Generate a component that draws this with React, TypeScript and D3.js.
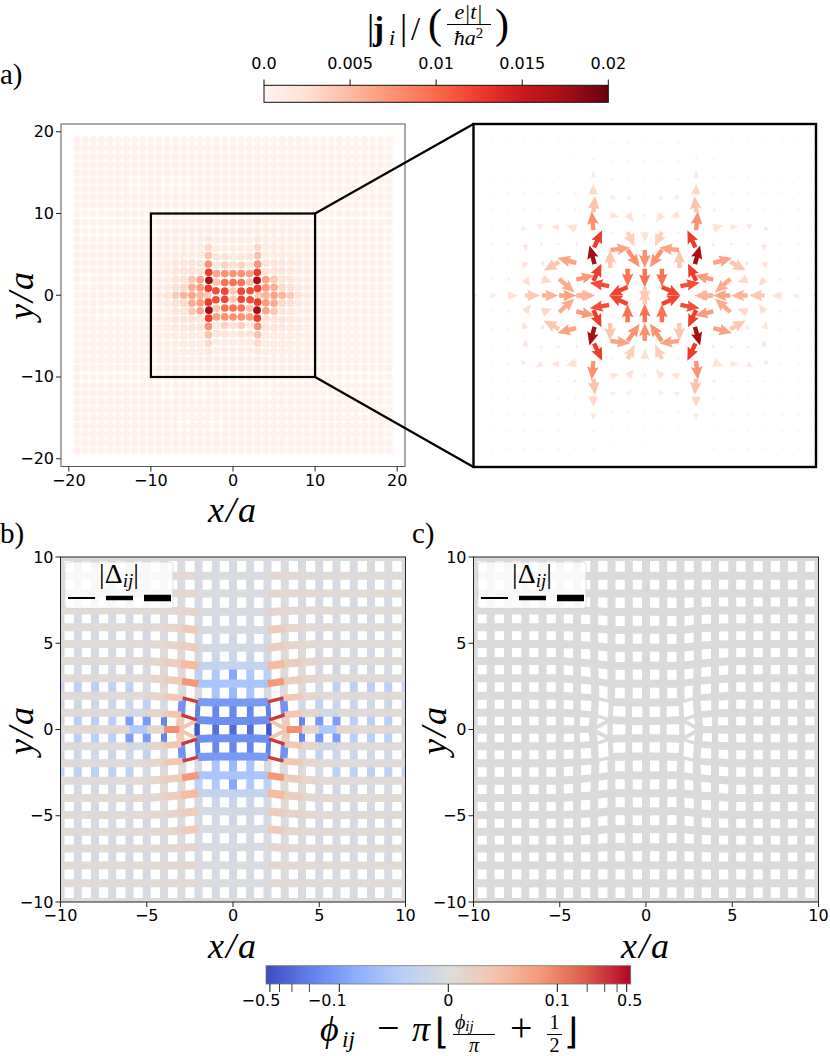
import * as d3 from 'd3';

// site rows, upper half, index j = 0..10 (j = 0 only exists outside the dislocation pair)
const rowsCol0 = [NaN, 0.5, 1.56, 2.66, 3.71, 4.75, 5.78, 6.82, 7.88, 8.92, 10];
const rowsCol1 = [NaN, 0.5, 1.56, 2.65, 3.7, 4.74, 5.78, 6.82, 7.88, 8.92, 10];
const rowsCol2 = [NaN, 0.55, 1.6, 2.65, 3.68, 4.72, 5.76, 6.8, 7.87, 8.92, 10];
const rowsCol3 = [0, 0.85, 1.83, 2.8, 3.81, 4.85, 5.87, 6.87, 7.88, 8.92, 10];
const rowsCol4 = [0, 0.93, 1.9, 2.9, 3.9, 4.92, 5.92, 6.9, 7.9, 8.92, 10];
const rowsOuter = [0, 0.97, 1.96, 2.97, 3.97, 4.95, 5.93, 6.9, 7.88, 8.92, 10];
const rowsByCol = [rowsCol0, rowsCol1, rowsCol2, rowsCol3, rowsCol4];
const col2X = [2, 2.08, 2.02, 2, 2, 2, 2, 2, 2, 2, 2];
const col3X = [3.12, 3.0, 2.93, 2.96, 3, 3, 3, 3, 3, 3, 3];

// |j_i| in units of 1e-3, rows j, columns i = |x|
const currentRows = [
  [0, 0, 0, 4, 5.5, 6.5, 5.5, 4, 2.2, 1.3, 0.9],
  [4, 12, 11.5, 12.5, 7, 6, 3, 2.5, 1.3, 0.9, 0.8],
  [9.5, 9.5, 4.2, 17.5, 6.5, 4.2, 2.2, 2, 1.1, 0.9, 0.8],
  [7.5, 7.5, 6.5, 12.5, 2.2, 2.2, 2, 1.8, 1, 0.9, 0.8],
  [2.4, 3.5, 1.4, 7.5, 2, 2.2, 1.5, 1.5, 0.9, 0.8, 0.8],
  [1.2, 2, 2, 4.5, 1.2, 1, 0.9, 0.9, 0.8, 0.8, 0.7],
  [0.9, 1.1, 1.1, 3, 1, 0.9, 0.9, 0.8, 0.8, 0.7, 0.7],
  [0.8, 0.9, 0.8, 1.6, 0.9, 0.8, 0.8, 0.8, 0.7, 0.7, 0.7],
  [0.8, 0.8, 0.8, 0.9, 0.8, 0.8, 0.7, 0.7, 0.7, 0.7, 0.6],
  [0.7, 0.7, 0.7, 0.8, 0.7, 0.7, 0.7, 0.7, 0.6, 0.6, 0.6],
  [0.6, 0.6, 0.6, 0.6, 0.6, 0.6, 0.6, 0.6, 0.6, 0.6, 0.6],
];
const currentFar = 0.45;

// arrow components for the x <= 0, y >= 0 quadrant, in lattice units
const arrowU = [
  [0, 0, 0, -1, 1.1, 1, 0.95, 0.9, 0.6, 0.4, 0.25],
  [0, -1.08, -1.13, 0.47, 1.07, 0.9, 0.6, 0.35, 0.2, 0.1, 0.1],
  [0, 0, 0, -0.3, -1.1, -0.9, 0.1, -0.1, 0.1, 0.1, 0.05],
  [0, 0.7, 1.15, 0.47, 0.05, -0.15, -0.1, 0.1, 0.1, 0.05, 0.05],
  [0, 0.4, 0.1, -0.1, -0.6, -0.45, -0.35, -0.25, 0.1, 0.05, 0.05],
  [0, 0.35, 0.5, 0.1, -0.15, -0.1, -0.15, -0.1, 0.1, 0.05, 0.05],
  [0, 0.2, 0.35, 0, -0.1, -0.1, -0.1, -0.1, 0.05, 0.05, 0.05],
  [0, 0.1, 0.2, 0, -0.1, -0.1, -0.1, -0.05, -0.05, 0.05, 0.05],
  [0, 0.05, 0.05, 0, -0.05, -0.05, -0.05, -0.05, -0.05, 0.05, 0.05],
  [0, 0.05, 0.05, 0, -0.05, -0.05, -0.05, -0.05, -0.05, 0.05, 0.05],
  [0, 0.05, 0.05, 0, -0.05, -0.05, -0.05, -0.05, -0.05, 0.05, 0.05],
];
const arrowV = [
  [0, 0, 0, 0, 0, 0, 0, 0, 0, 0, 0],
  [-0.95, -0.5, 0.2, 1, 0.25, -0.8, -0.2, -0.45, -0.1, -0.05, -0.05],
  [-1.1, -1.05, 1.05, 1.08, 0.28, -0.5, -0.25, -0.45, 0.1, 0.05, 0.05],
  [-1.05, -1, 0.13, 1, 0.2, 0.1, 0.1, -0.4, 0.1, 0.05, 0.05],
  [-0.6, -0.85, 0, 1.1, 0.2, 0.05, 0.25, -0.2, 0.1, 0.1, 0.05],
  [-0.25, -0.45, -0.15, 0.95, 0.2, 0.15, 0.1, 0.15, 0.1, 0.1, 0.05],
  [-0.1, -0.3, -0.1, 0.65, 0.15, 0.15, 0.1, 0.1, 0.1, 0.1, 0.05],
  [-0.1, -0.1, -0.05, 0.4, 0.1, 0.1, 0.1, 0.1, 0.1, 0.05, 0.05],
  [-0.05, -0.05, -0.05, 0.2, 0.05, 0.05, 0.05, 0.05, 0.05, 0.05, 0.05],
  [-0.05, -0.05, -0.05, 0.1, 0.05, 0.05, 0.05, 0.05, 0.05, 0.05, 0.05],
  [-0.05, -0.05, -0.05, 0.05, 0.05, 0.05, 0.05, 0.05, 0.05, 0.05, 0.05],
];

// phase on vertical bonds: column i, from row j to row j+1
const phaseV = [
  [-0.3, -0.28, -0.45, 0.03, -0.17, -0.11, -0.1, -0.04, -0.04, -0.04, -0.02],
  [-0.17, -0.17, -0.2, -0.13, -0.01, -0.03, -0.02, -0.02, -0.015, -0.015, -0.015],
  [-0.07, -0.055, -0.005, 0, 0.004, -0.01, -0.035, -0.035, -0.035, -0.035, -0.03],
  [-0.09, -0.05, -0.035, 0.006, 0.004, -0.01, -0.015, -0.012, -0.01, -0.01, -0.01],
  [-0.02, -0.018, -0.01, 0.006, 0.002, -0.01, -0.01, -0.01, -0.01, -0.01, -0.01],
  [-0.015, -0.012, -0.01, -0.003, -0.005, -0.012, -0.01, -0.01, -0.01, -0.01, -0.01],
  [-0.012, -0.01, -0.008, -0.004, -0.006, -0.01, -0.01, -0.01, -0.01, -0.01, -0.01],
  [-0.012, -0.01, -0.008, -0.004, -0.006, -0.01, -0.01, -0.01, -0.01, -0.01, -0.01],
  [-0.012, -0.01, -0.008, -0.004, -0.006, -0.01, -0.01, -0.008, -0.008, -0.008, -0.008],
  [-0.012, -0.01, -0.008, -0.004, -0.006, -0.008, -0.008, -0.008, -0.006, -0.006, -0.006],
];
// phase on horizontal bonds: row j, from column i to column i+1
const phaseH = [
  [0, 0, 0.04, 0.09, 0.012, -0.05, 0.01, 0.005, 0.008, 0.005],
  [-0.14, -0.14, 0.3, 0.035, 0.012, -0.012, 0.003, 0.003, 0.004, 0.004],
  [-0.11, -0.11, 0.28, 0.035, 0.012, 0.004, 0.004, 0.004, 0.004, 0.004],
  [-0.055, -0.055, 0.085, 0.028, 0.012, 0.006, 0.005, 0.004, 0.004, 0.004],
  [-0.028, -0.028, 0.05, 0.024, 0.01, 0.008, 0.005, 0.004, 0.004, 0.004],
  [-0.012, -0.012, 0.026, 0.015, 0.007, 0.005, 0.004, 0.004, 0.004, 0.004],
  [-0.008, -0.008, 0.03, 0.013, 0.006, 0.007, 0.004, 0.004, 0.004, 0.004],
  [-0.006, -0.006, 0.014, 0.008, 0.005, 0.005, 0.004, 0.004, 0.004, 0.004],
  [-0.004, -0.004, 0.01, 0.007, 0.005, 0.004, 0.004, 0.004, 0.004, 0.004],
  [-0.003, -0.003, 0.008, 0.006, 0.004, 0.004, 0.004, 0.004, 0.004, 0.004],
  [0.004, 0.004, 0.004, 0.004, 0.004, 0.004, 0.004, 0.004, 0.004, 0.004],
];

// |Delta_ij| relative to bulk, near the dislocations only
const deltaVNear = [
  [0.8, 0.8, 0.62, 1, 0.75],
  [0.85, 0.85, 0.62, 0.95, 0.95],
  [1, 1, 0.95, 1, 1],
];
const deltaHNear = [
  [1, 1, 0.5, 0.9, 1],
  [1, 1, 0.42, 0.85, 1],
  [1, 1, 0.42, 0.85, 1],
  [1, 1, 0.9, 0.95, 1],
];

const currentTicks = [0, 0.005, 0.01, 0.015, 0.02];
const currentTickLabels = ['0.0', '0.005', '0.01', '0.015', '0.02'];
const phaseTicks = [-0.5, -0.1, 0, 0.1, 0.5];
const phaseTickLabels = ['−0.5', '−0.1', '0', '0.1', '0.5'];
const phaseMinorTicks = [-0.4, -0.3, -0.2, 0.2, 0.3, 0.4];
const ticksA = [-20, -10, 0, 10, 20];
const ticksB = [-10, -5, 0, 5, 10];
const legendWidths = [2, 4.5, 6.5];

const coolwarm = ['#3b4cc0', '#6282ea', '#8db0fe', '#b7cff9', '#dddcdc', '#f5c4ac', '#f49a7b', '#dc5d4a', '#b40426'];
const reds = d3.schemeReds[9];

const redScale = d3.scaleLinear<string>()
  .domain(reds.map((_, k) => (k / 8) * 0.02))
  .range(reds)
  .clamp(true);

const coolScale = d3.scaleLinear<string>()
  .domain(coolwarm.map((_, k) => k / 8))
  .range(coolwarm)
  .clamp(true);

// symlog position on the phase bar: linear below 0.1, log above, px from the centre
const linPart = d3.scaleLinear().domain([0, 0.1]).range([0, 109]);
const logPart = d3.scaleLog().domain([0.1, 0.5]).range([109, 178.4]);
const phaseHalf = 182.4;
const phaseOffset = (v: number) => {
  const a = Math.abs(v);
  return Math.sign(v) * (a <= 0.1 ? linPart(a) : logPart(a));
};
const phaseColor = (v: number) => coolScale(0.5 + phaseOffset(v) / (2 * phaseHalf));

const siteX = (i: number, j: number) => {
  if (i === 2 && j <= 10) return col2X[j];
  if (i === 3 && j <= 10) return col3X[j];
  return i;
};
const siteY = (i: number, j: number) => {
  if (j > 10) return j;
  return (rowsByCol[i] ?? rowsOuter)[j];
};
const hasSite = (i: number, j: number) => !(i <= 2 && j === 0);

type Bond = { x1: number; y1: number; x2: number; y2: number; phase: number; delta: number };

// expands one quadrant bond to all four mirrored copies
const pushMirrored = (list: Bond[], b: Bond) => {
  [-1, 1].forEach(sx => {
    [-1, 1].forEach(sy => {
      list.push({ ...b, x1: sx * b.x1, x2: sx * b.x2, y1: sy * b.y1, y2: sy * b.y2 });
    });
  });
};

const verticalBonds: Bond[] = [];
const horizontalBonds: Bond[] = [];

phaseV.forEach((row, j) => {
  row.forEach((phase, i) => {
    const delta = deltaVNear[j]?.[i] ?? 1;
    if (j === 0 && i <= 2) {
      pushMirrored(verticalBonds, { x1: siteX(i, 1), y1: siteY(i, 1), x2: siteX(i, 1), y2: -siteY(i, 1), phase, delta });
    } else {
      pushMirrored(verticalBonds, { x1: siteX(i, j), y1: siteY(i, j), x2: siteX(i, j + 1), y2: siteY(i, j + 1), phase, delta });
    }
  });
});

phaseH.forEach((row, j) => {
  row.forEach((phase, i) => {
    const delta = deltaHNear[j]?.[i] ?? 1;
    if (j === 0 && i < 2) return;
    if (j === 0 && i === 2) {
      // bond that ends on the dislocation core
      pushMirrored(horizontalBonds, { x1: siteX(2, 1), y1: siteY(2, 1), x2: siteX(3, 0), y2: 0, phase, delta });
      return;
    }
    pushMirrored(horizontalBonds, { x1: siteX(i, j), y1: siteY(i, j), x2: siteX(i + 1, j), y2: siteY(i + 1, j), phase, delta });
  });
});

type Site = { x: number; y: number; i: number; j: number; sx: number; sy: number };
const sites: Site[] = [];
d3.range(0, 20).forEach(i => {
  d3.range(0, 20).forEach(j => {
    if (!hasSite(i, j)) return;
    (i === 0 ? [1] : [-1, 1]).forEach(sx => {
      (j === 0 ? [1] : [-1, 1]).forEach(sy => {
        sites.push({ x: sx * siteX(i, j), y: sy * siteY(i, j), i, j, sx, sy });
      });
    });
  });
});
const currentAt = (i: number, j: number) => (i <= 10 && j <= 10 ? currentRows[j][i] : currentFar) / 1000;

// quiver style arrow polygon, pointing along +x from the origin
const arrowPath = (len: number) => {
  const shaft = 4.4;
  const headW = 11.5;
  const headL = 13;
  const notch = 11.7;
  const k = len < headL ? len / headL : 1;
  const w = (shaft / 2) * k;
  const hw = (headW / 2) * k;
  const hl = headL * k;
  const nt = notch * k;
  return `M0,${-w}L${len - nt},${-w}L${len - hl},${-hw}L${len},0L${len - hl},${hw}L${len - nt},${w}L0,${w}Z`;
};

const sans = 'DejaVu Sans';
const serif = 'Liberation Serif';

// axes frame with ticks for the scatter and lattice panels
const Frame = ({ x, y, ticks, stroke }: { x: d3.ScaleLinear<number, number>; y: d3.ScaleLinear<number, number>; ticks: number[]; stroke: string }) => {
  const [x0, x1] = x.range();
  const [y0, y1] = y.range();
  return (
    <g>
      <rect x={x0} y={y1} width={x1 - x0} height={y0 - y1} fill="none" stroke={stroke} strokeWidth={1} />
      {ticks.map(t => (
        <g key={t}>
          <line x1={x(t)} x2={x(t)} y1={y0} y2={y0 + 5} stroke="#222" />
          <text x={x(t)} y={y0 + 19} textAnchor="middle" fontFamily={sans} fontSize={16}>{t < 0 ? `−${-t}` : t}</text>
          <line x1={x0} x2={x0 - 5} y1={y(t)} y2={y(t)} stroke="#222" />
          <text x={x0 - 7} y={y(t) + 5.5} textAnchor="end" fontFamily={sans} fontSize={16}>{t < 0 ? `−${-t}` : t}</text>
        </g>
      ))}
    </g>
  );
};

const AxisLabel = ({ text, x, y, rotate }: { text: string; x: number; y: number; rotate?: boolean }) => (
  <text
    x={x} y={y}
    transform={rotate ? `rotate(-90 ${x} ${y})` : undefined}
    textAnchor="middle" fontFamily={serif} fontStyle="italic" fontSize={36} letterSpacing={2}
  >{text}</text>
);

const Lattice = ({ left, id, colored }: { left: number; id: string; colored: boolean }) => {
  const x = d3.scaleLinear().domain([-10, 10]).range([left, left + 345]);
  const y = d3.scaleLinear().domain([-10, 10]).range([902, 557]);
  const bondWidth = d3.scaleLinear().domain([0, 1]).range([0, 8]);
  const lx = left + 4.5;
  return (
    <g>
      <clipPath id={id}><rect x={left} y={557} width={345} height={345} /></clipPath>
      <g clipPath={`url(#${id})`} fill="none">
        {[...verticalBonds, ...horizontalBonds].map((b, k) => (
          <line
            key={k}
            x1={x(b.x1)} y1={y(b.y1)} x2={x(b.x2)} y2={y(b.y2)}
            stroke={colored ? phaseColor(b.phase) : '#dadada'}
            strokeWidth={bondWidth(b.delta)}
          />
        ))}
      </g>
      <rect x={lx} y={562} width={108} height={46.5} rx={3} fill="#fff" fillOpacity={0.8} stroke="#ccc" strokeOpacity={0.8} strokeWidth={0.8} />
      <text x={lx + 54} y={583} textAnchor="middle" fontFamily={serif} fontSize={28}>
        |Δ<tspan fontStyle="italic" fontSize={19} dy={4}>ij</tspan><tspan dy={-4}>|</tspan>
      </text>
      {legendWidths.map((w, k) => (
        <line key={w} x1={lx + 3 + k * 38} x2={lx + 30 + k * 38} y1={598} y2={598} stroke="#000" strokeWidth={w} />
      ))}
      <Frame x={x} y={y} ticks={ticksB} stroke="#222" />
    </g>
  );
};

export default function App() {
  const xA = d3.scaleLinear().domain([-20.95, 20.95]).range([61, 405]);
  const yA = d3.scaleLinear().domain([-20.95, 20.95]).range([466.5, 124]);
  const xZoom = d3.scaleLinear().domain([-10, 10]).range([473.5, 816]);
  const yZoom = d3.scaleLinear().domain([-10, 10]).range([467, 124]);
  const xBar = d3.scaleLinear().domain([0, 0.02]).range([264, 608.3]);
  const barCenter = 448.3;

  const zoomSites = sites.filter(s => s.i <= 10 && s.j <= 10);

  return (
    <svg width={830} height={1056} style={{ position: 'absolute', left: 0, top: 0, background: '#fff' }}>
      <defs>
        <linearGradient id="redsBar">
          {reds.map((c, k) => <stop key={c} offset={k / 8} stopColor={c} />)}
        </linearGradient>
        <linearGradient id="coolBar">
          {coolwarm.map((c, k) => <stop key={c} offset={k / 8} stopColor={c} />)}
        </linearGradient>
      </defs>

      {/* top colorbar */}
      <g fontFamily={serif}>
        <text x={367} y={39} fontSize={36}>|</text>
        <text x={373} y={40} fontSize={33} fontWeight="bold">j</text>
        <text x={389} y={45} fontSize={22} fontStyle="italic">i</text>
        <text x={400} y={39} fontSize={36}>|</text>
        <text x={411} y={40} fontSize={33}>/</text>
        <text x={428} y={38} fontSize={42}>(</text>
        <text x={468.5} y={19} fontSize={22} textAnchor="middle" fontStyle="italic">e|t|</text>
        <line x1={447} x2={491} y1={24.5} y2={24.5} stroke="#000" strokeWidth={1} />
        <text x={468.5} y={45} fontSize={22} textAnchor="middle" fontStyle="italic">ħa<tspan fontSize={15} dy={-7} fontStyle="normal">2</tspan></text>
        <text x={495} y={38} fontSize={42}>)</text>
      </g>
      <rect x={264} y={85.3} width={344.3} height={17} fill="url(#redsBar)" stroke="#111" strokeWidth={1} />
      {currentTicks.map((t, k) => (
        <g key={t}>
          <line x1={xBar(t)} x2={xBar(t)} y1={79.5} y2={85.3} stroke="#111" />
          <text x={xBar(t)} y={69} textAnchor="middle" fontFamily={sans} fontSize={16}>{currentTickLabels[k]}</text>
        </g>
      ))}

      <text x={0} y={84} fontFamily={serif} fontSize={29}>a)</text>
      <text x={0} y={543} fontFamily={serif} fontSize={29}>b)</text>
      <text x={412} y={543} fontFamily={serif} fontSize={29}>c)</text>

      {/* panel a */}
      {sites.map((s, k) => (
        <circle key={k} cx={xA(s.x)} cy={yA(s.y)} r={3.85} fill={redScale(currentAt(s.i, s.j))} />
      ))}
      <Frame x={xA} y={yA} ticks={ticksA} stroke="#555" />
      <rect x={xA(-10)} y={yA(10)} width={xA(10) - xA(-10)} height={yA(-10) - yA(10)} fill="none" stroke="#000" strokeWidth={2.2} />
      <line x1={xA(10)} y1={yA(10)} x2={473.5} y2={124} stroke="#000" strokeWidth={2.2} />
      <line x1={xA(10)} y1={yA(-10)} x2={473.5} y2={467} stroke="#000" strokeWidth={2.2} />
      <AxisLabel text="x/a" x={233} y={522} />
      <AxisLabel text="y/a" x={33} y={295} rotate />

      {/* inset with the current arrows */}
      <g>
        {zoomSites.map((s, k) => {
          const u = arrowU[s.j][s.i] * (s.sx > 0 ? -1 : 1);
          const v = arrowV[s.j][s.i] * s.sy;
          const px = (u * (xZoom(1) - xZoom(0)));
          const py = (v * (yZoom(1) - yZoom(0)));
          const raw = Math.hypot(px, py);
          if (!raw) return null;
          const len = Math.max(raw, 2.8);
          const angle = (Math.atan2(py, px) * 180) / Math.PI;
          return (
            <path
              key={k}
              d={arrowPath(len)}
              transform={`translate(${xZoom(s.x)},${yZoom(s.y)}) rotate(${angle})`}
              fill={redScale(currentAt(s.i, s.j))}
            />
          );
        })}
      </g>
      <rect x={473.5} y={124} width={342.5} height={343} fill="none" stroke="#000" strokeWidth={2.4} />

      {/* panels b and c */}
      <Lattice left={60.5} id="clipB" colored />
      <Lattice left={473.5} id="clipC" colored={false} />
      <AxisLabel text="x/a" x={233} y={958} />
      <AxisLabel text="y/a" x={33} y={730} rotate />
      <AxisLabel text="x/a" x={646} y={958} />
      <AxisLabel text="y/a" x={446} y={730} rotate />

      {/* bottom colorbar */}
      <rect x={266} y={965.7} width={364.7} height={18.3} fill="url(#coolBar)" stroke="#777" strokeWidth={0.8} />
      {phaseTicks.map((t, k) => (
        <g key={t}>
          <line x1={barCenter + phaseOffset(t)} x2={barCenter + phaseOffset(t)} y1={984} y2={992} stroke="#111" />
          <text
            x={barCenter + phaseOffset(t) + (t === -0.5 ? -9 : t === 0.5 ? 3 : t === -0.1 ? -12 : 0)}
            y={1006} textAnchor="middle" fontFamily={sans} fontSize={16}
          >{phaseTickLabels[k]}</text>
        </g>
      ))}
      {phaseMinorTicks.map(t => (
        <line key={t} x1={barCenter + phaseOffset(t)} x2={barCenter + phaseOffset(t)} y1={984} y2={992} stroke="#111" strokeWidth={0.8} />
      ))}
      <g fontFamily={serif}>
        <text x={320} y={1041} fontSize={36} fontStyle="italic">ϕ</text>
        <text x={342} y={1047} fontSize={23} fontStyle="italic">ij</text>
        <text x={377} y={1041} fontSize={40}>−</text>
        <text x={412} y={1041} fontSize={36} fontStyle="italic">π</text>
        <text x={435} y={1044} fontSize={36} fontFamily={sans}>⌊</text>
        <text x={455} y={1029} fontSize={20} fontStyle="italic">ϕ<tspan fontSize={15} dy={2}>ij</tspan></text>
        <line x1={453} x2={495} y1={1034.5} y2={1034.5} stroke="#000" />
        <text x={474} y={1051.5} fontSize={20} fontStyle="italic" textAnchor="middle">π</text>
        <text x={510} y={1041} fontSize={40}>+</text>
        <text x={554.5} y={1029} fontSize={20} textAnchor="middle">1</text>
        <line x1={547} x2={562} y1={1034.5} y2={1034.5} stroke="#000" />
        <text x={554.5} y={1051.5} fontSize={20} textAnchor="middle">2</text>
        <text x={564} y={1044} fontSize={36} fontFamily={sans}>⌋</text>
      </g>
    </svg>
  );
}
